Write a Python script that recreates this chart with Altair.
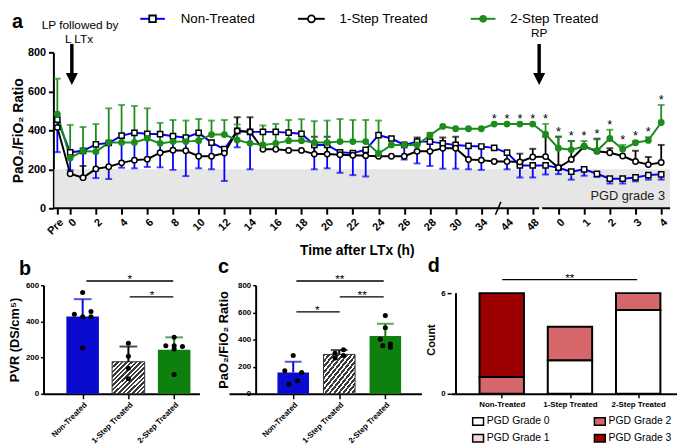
import json
import altair as alt
import pandas as pd

FONT = "Liberation Sans"
BLUE = "#0000ff"
GREEN = "#1c8c1c"
BAR_BLUE = "#0b0bd0"
BAR_GREEN = "#0d800d"
HATCH_DARK = "#3a3a3a"
BAND_GREY = "#e6e6e6"

# ======================= DATA =======================
# ---- panel a : PaO2/FiO2 ratio over time ----
time_points = (["Pre"] + [f"{h} h" for h in range(31)]
               + ["32 h", "34 h", "40 h", "44 h", "46 h", "48 h", "RP pre"]
               + [f"RP {t} h" for t in ("0", "0.5", "1", "1.5", "2", "2.5", "3", "3.5", "4")])
axis_tick_idx = [0] + list(range(1, 32, 2)) + [33, 35, 37, 39, 41, 43, 45, 47]
axis_tick_labels = (["Pre"] + [str(h) for h in range(0, 31, 2)]
                    + ["34", "44", "48", "0", "1", "2", "3", "4"])

non_treated = [455, 287, 295, 328, 335, 373, 387, 382, 380, 370,
               363, 387, 337, 303, 397, 392, 392, 392, 388, 382,
               325, 325, 287, 283, 300, 375, 358, 325, 342, 342,
               333, 325, 320, 317, 310, 285, 220, 220, 220, 208,
               188, 200, 177, 152, 152, 158, 170, 174]
one_step = [415, 177, 157, 202, 213, 233, 247, 252, 285, 298,
            295, 267, 267, 283, 397, 392, 303, 303, 297, 297,
            278, 278, 275, 272, 270, 267, 267, 267, 292, 292,
            308, 308, 250, 247, 240, 240, 238, 263, 265, 208,
            250, 317, 293, 285, 268, 240, 224, 235]
two_step = [483, 258, 294, 290, 337, 338, 338, 358, 333, 342,
            342, 347, 378, 378, 350, 333, 325, 333, 347, 347,
            337, 337, 342, 342, 342, 281, 325, 325, 325, 375,
            420, 408, 408, 408, 432, 432, 432, 432, 380, 308,
            300, 317, 295, 358, 303, 336, 348, 440]
N = None
non_treated_low = [288, 195, 158, 155, 150, 208, 205, 212, 210, 197,
                   165, 205, 200, 140, 313, 200, N, N, N, N,
                   200, 205, 182, 170, 163, N, N, 250, 230, 217,
                   203, 203, 200, 197, N, 200, 158, 158, 173, 175,
                   147, 167, 160, 127, 127, 138, 147, 147]
one_step_high = [N, N, 217, N, N, N, N, N, N, N,
                 N, N, N, N, 467, 467, N, N, N, N,
                 367, 367, N, N, N, N, N, N, 363, N,
                 363, 367, N, N, N, N, 280, 305, 367, 367,
                 345, N, 357, 308, N, 295, 263, 325]
two_step_high = [665, 428, 417, 432, 513, 530, 525, 513, 438, 453,
                 450, 458, 450, 453, 430, N, 425, 433, 453, 457,
                 447, 450, 458, 453, 453, 450, N, N, N, 387,
                 N, N, N, N, N, N, N, N, 433, 367,
                 345, 345, 353, 403, 325, 345, 365, 530]
significant_idx = list(range(34, 48))
pgd3_threshold = 200

# ---- panel b : PVR ----
groups = ["Non-Treated", "1-Step Treated", "2-Step Treated"]
pvr_mean = [427, 177, 243]
pvr_sd_top = [523, 261, 312]
pvr_non = [560, 440, 426, 455, 426, 253]
pvr_one = [279, 207, 141, 83]
pvr_two = [312, 266, 266, 261, 248, 106]

# ---- panel c : PaO2/FiO2 at end ----
pf_mean = [157, 290, 425]
pf_sd_top = [236, 322, 516]
pf_non = [282, 169, 157, 96, 70]
pf_one = [299, 325, 263, 282]
pf_two = [576, 487, 402, 366, 354, 342]

# ---- panel d : PGD grade counts ----
grades = ["PGD Grade 0", "PGD Grade 1", "PGD Grade 2", "PGD Grade 3"]
grade_counts = {"Non-Treated": [0, 0, 1, 5],
                "1-Step Treated": [2, 0, 2, 0],
                "2-Step Treated": [5, 0, 1, 0]}
grade_colors = ["#ffffff", "#f8d6d6", "#d5676b", "#9c0000"]

# ======================= LAYOUT HELPERS =======================
K = (668 - 56) / 47
def ax(px): return (px - 56) / K
def ay(py): return (210 - py) * 800 / 158
XA = [ax(42), ax(677)]

def bx(px): return (px - 79) / 49.5
def by(py): return (395 - py) * 600 / 110
def cx(px): return (px - 293.3) / 49.2
def cy(py): return (395 - py) * 800 / 110
def dx(px): return (px - 503.5) / 72.3
def dy(py): return (395 - py) * 6 / 102

grp_expr = json.dumps(groups) + "[datum.value]"
lab_arr = [""] * len(time_points)
for i, l in zip(axis_tick_idx, axis_tick_labels):
    lab_arr[i] = l
tick_expr = json.dumps(lab_arr) + "[datum.value]"

# ======================= PANEL A =======================
X_A = alt.X("idx:Q", title="Time after LTx (h)",
            scale=alt.Scale(domain=XA, nice=False, zero=False),
            axis=alt.Axis(values=axis_tick_idx, labelExpr=tick_expr, labelAngle=-45,
                          labelFontSize=11, labelFontWeight="bold", labelColor="black",
                          labelPadding=2, labelOverlap=False, labelFlush=False,
                          domain=False, tickColor="black", tickWidth=2, tickSize=6,
                          titleFontSize=14, titleFontWeight="bold", titleColor="black",
                          titlePadding=8, grid=False))
Y_A = alt.Y("val:Q", title="PaO₂/FiO₂ Ratio",
            scale=alt.Scale(domain=[0, 800], nice=False),
            axis=alt.Axis(values=[0, 200, 400, 600, 800], offset=-10, domainColor="black",
                          domainWidth=2, tickColor="black", tickWidth=2, tickSize=5,
                          labelFontSize=11, labelFontWeight="bold", labelColor="black",
                          labelPadding=3, titleFontSize=14, titleFontWeight="bold",
                          titleColor="black", titlePadding=2, grid=False))

series = [("Non-Treated", non_treated, BLUE), ("1-Step Treated", one_step, "black"),
          ("2-Step Treated", two_step, GREEN)]
long_rows = []
for name, vals, _ in series:
    for i, v in enumerate(vals):
        long_rows.append({"idx": i, "time": time_points[i], "series": name, "val": v})
a_long = pd.DataFrame(long_rows)

def err_frames(vals, ends):
    rows = [{"idx": i, "val": v, "val2": e} for i, (v, e) in enumerate(zip(vals, ends)) if e is not None]
    caps = [{"idx": r["idx"], "val": r["val2"]} for r in rows]
    return pd.DataFrame(rows), pd.DataFrame(caps)

band_df = pd.DataFrame({"idx": [ax(53)], "idx2": [XA[1]], "val": [0], "val2": [pgd3_threshold]})
axis_df = pd.DataFrame({"idx": [ax(52), ax(547.3)], "idx2": [ax(544.3), XA[1]], "val": [0, 0]})
slash_df = pd.DataFrame({"idx": [ax(500)], "idx2": [ax(505.5)], "val": [ay(216.5)], "val2": [ay(203.5)]})

layers_a = [
    alt.Chart(band_df).mark_rect(color=BAND_GREY).encode(x=X_A, x2="idx2:Q", y=Y_A, y2="val2:Q"),
    alt.Chart(axis_df).mark_rule(color="black", strokeWidth=2).encode(x=X_A, x2="idx2:Q", y=Y_A),
    alt.Chart(slash_df).mark_rule(color="black", strokeWidth=1.5).encode(x=X_A, x2="idx2:Q", y=Y_A, y2="val2:Q"),
]

err_specs = [(non_treated, non_treated_low, BLUE), (one_step, one_step_high, "black"),
             (two_step, two_step_high, GREEN)]
for (name, vals, col), (v2, ends, ecol) in zip(series, err_specs):
    e_df, c_df = err_frames(v2, ends)
    layers_a.append(alt.Chart(e_df).mark_rule(color=ecol, strokeWidth=1.8).encode(x=X_A, y=Y_A, y2="val2:Q"))
    layers_a.append(alt.Chart(c_df).mark_tick(orient="horizontal", size=7, thickness=2, color=ecol).encode(x=X_A, y=Y_A))
    layers_a.append(alt.Chart(a_long).transform_filter(alt.datum.series == name)
                    .mark_line(color=col, strokeWidth=2).encode(x=X_A, y=Y_A))

layers_a += [
    alt.Chart(a_long).transform_filter(alt.datum.series == "Non-Treated")
    .mark_point(shape="square", size=28, filled=True, fill="white", stroke="black", strokeWidth=1.5, opacity=1)
    .encode(x=X_A, y=Y_A),
    alt.Chart(a_long).transform_filter(alt.datum.series == "1-Step Treated")
    .mark_point(shape="circle", size=30, filled=True, fill="white", stroke="black", strokeWidth=1.5, opacity=1)
    .encode(x=X_A, y=Y_A),
    alt.Chart(a_long).transform_filter(alt.datum.series == "2-Step Treated")
    .mark_circle(size=48, color=GREEN, opacity=1).encode(x=X_A, y=Y_A),
]

star_df = pd.DataFrame({"idx": significant_idx,
                        "val": [max(two_step[i], two_step_high[i] or 0) for i in significant_idx]})
layers_a.append(alt.Chart(star_df).mark_text(text="*", fontSize=13, baseline="alphabetic", dy=-1, color="black")
                .encode(x=X_A, y=Y_A))

ann_df = pd.DataFrame({"idx": [ax(79), ax(78), ax(544.3)], "val": [ay(24.3), ay(38.3), ay(32.5)],
                       "txt": ["LP followed by", "L LTx", "RP"]})
layers_a.append(alt.Chart(ann_df).mark_text(fontSize=12, baseline="middle", align="center", color="black")
                .encode(x=X_A, y=Y_A, text="txt:N"))
shaft_df = pd.DataFrame({"idx": [ax(70.7), ax(544.3)], "val": [ay(43.5)] * 2, "val2": [ay(75)] * 2})
head_df = pd.DataFrame({"idx": [ax(70.7), ax(544.3)], "val": [ay(79)] * 2})
layers_a.append(alt.Chart(shaft_df).mark_rule(color="black", strokeWidth=3.5).encode(x=X_A, y=Y_A, y2="val2:Q"))
layers_a.append(alt.Chart(head_df).mark_point(shape="M-1,-1L1,-1L0,1Z", size=150, filled=True, color="black", opacity=1)
                .encode(x=X_A, y=Y_A))
pgd_df = pd.DataFrame({"idx": [ax(672)], "val": [ay(197.5)], "txt": ["PGD grade 3"]})
layers_a.append(alt.Chart(pgd_df).mark_text(fontSize=13, align="right", baseline="middle", color="#222222")
                .encode(x=X_A, y=Y_A, text="txt:N"))

# legend of panel a
LEG_Y = ay(18)
leg = [("Non-Treated", 140, 165, 152.5, 181, BLUE), ("1-Step Treated", 300, 327, 313.5, 342, "black"),
       ("2-Step Treated", 475, 500, 487.5, 515, GREEN)]
for name, x0, x1, xs, xt, col in leg:
    ldf = pd.DataFrame({"idx": [ax(x0)], "idx2": [ax(x1)], "val": [LEG_Y]})
    layers_a.append(alt.Chart(ldf).mark_rule(color=col, strokeWidth=2).encode(x=X_A, x2="idx2:Q", y=Y_A))
    sdf = pd.DataFrame({"idx": [ax(xs)], "val": [LEG_Y]})
    if name == "Non-Treated":
        m = alt.Chart(sdf).mark_point(shape="square", size=45, filled=True, fill="white", stroke="black", strokeWidth=1.8, opacity=1)
    elif name == "1-Step Treated":
        m = alt.Chart(sdf).mark_point(shape="circle", size=50, filled=True, fill="white", stroke="black", strokeWidth=1.8, opacity=1)
    else:
        m = alt.Chart(sdf).mark_circle(size=60, color=GREEN, opacity=1)
    layers_a.append(m.encode(x=X_A, y=Y_A))
    tdf = pd.DataFrame({"idx": [ax(xt)], "val": [LEG_Y], "txt": [name]})
    layers_a.append(alt.Chart(tdf).mark_text(fontSize=13.5, align="left", baseline="middle", color="black")
                    .encode(x=X_A, y=Y_A, text="txt:N"))

letter_a = pd.DataFrame({"idx": [ax(10)], "val": [ay(27)], "txt": ["a"]})
layers_a.append(alt.Chart(letter_a).mark_text(fontSize=20, fontWeight="bold", align="left", baseline="alphabetic", color="black")
                .encode(x=X_A, y=Y_A, text="txt:N"))

panel_a = alt.layer(*layers_a).properties(width=635, height=158)

# ======================= BAR PANELS (b, c) =======================
stops = []
NH = 14
for k in range(NH):
    a0, a1, a2 = k / NH, (k + 0.55) / NH, (k + 1) / NH
    stops += [alt.GradientStop(offset=a0, color=HATCH_DARK), alt.GradientStop(offset=a1, color=HATCH_DARK),
              alt.GradientStop(offset=a1, color="#ffffff"), alt.GradientStop(offset=a2, color="#ffffff")]
hatch = alt.LinearGradient(gradient="linear", stops=stops, x1=0, y1=0, x2=1, y2=1)
BAR_COLORS = [BAR_BLUE, None, BAR_GREEN]
ERR_COLORS = [BAR_BLUE, "black", BAR_GREEN]


def bar_panel(means, tops, pts, slots, slot_w, xdom, ydom, yticks, ytitle, width, height,
              bar_w, cap_w, title_pad, sig_lines, sig_texts, letter, letter_xy, y_offset=0):
    X = alt.X("pos:Q", title=None, scale=alt.Scale(domain=xdom, nice=False, zero=False),
              axis=alt.Axis(values=[0, 1, 2], labelExpr=grp_expr, labelAngle=-45, labelFontSize=8,
                            labelFontWeight="bold", labelColor="black", labelPadding=2, labelFlush=False,
                            labelOverlap=False, tickSize=5, tickWidth=1.5, tickColor="black",
                            domainWidth=2, domainColor="black", grid=False))
    Y = alt.Y("val:Q", title=ytitle, scale=alt.Scale(domain=ydom, nice=False),
              axis=alt.Axis(values=yticks, offset=y_offset, labelFontSize=8, labelFontWeight="bold",
                            labelColor="black", labelPadding=2, tickSize=3, tickWidth=1.5, tickColor="black",
                            domainWidth=2, domainColor="black", grid=False, titleFontSize=13,
                            titleFontWeight="bold", titleColor="black", titlePadding=title_pad))
    layers = []
    for k, g in enumerate(groups):
        bdf = pd.DataFrame({"pos": [k], "group": [g], "val": [means[k]], "val2": [tops[k]]})
        if k == 1:
            layers.append(alt.Chart(bdf).mark_bar(width=bar_w, fill=hatch, stroke="#333333", strokeWidth=1)
                          .encode(x=X, y=Y))
        else:
            layers.append(alt.Chart(bdf).mark_bar(width=bar_w, color=BAR_COLORS[k]).encode(x=X, y=Y))
        layers.append(alt.Chart(bdf).mark_rule(color=ERR_COLORS[k], strokeWidth=2).encode(x=X, y=Y, y2="val2:Q"))
        cdf = pd.DataFrame({"pos": [k], "val": [tops[k]]})
        layers.append(alt.Chart(cdf).mark_tick(orient="horizontal", size=cap_w, thickness=2, color=ERR_COLORS[k])
                      .encode(x=X, y=Y))
    drows = []
    for k, (vals, sl) in enumerate(zip(pts, slots)):
        for v, s in zip(vals, sl):
            drows.append({"pos": k + s * slot_w, "val": v, "group": groups[k]})
    layers.append(alt.Chart(pd.DataFrame(drows)).mark_circle(size=26, color="black", opacity=1).encode(x=X, y=Y))
    layers.append(alt.Chart(pd.DataFrame(sig_lines)).mark_rule(color="black", strokeWidth=1.3)
                  .encode(x=X, x2="pos2:Q", y=Y))
    layers.append(alt.Chart(pd.DataFrame(sig_texts)).mark_text(fontSize=12, baseline="alphabetic", dy=2, color="black")
                  .encode(x=X, y=Y, text="txt:N"))
    ldf = pd.DataFrame({"pos": [letter_xy[0]], "val": [letter_xy[1]], "txt": [letter]})
    layers.append(alt.Chart(ldf).mark_text(fontSize=20, fontWeight="bold", align="left", baseline="alphabetic", color="black")
                  .encode(x=X, y=Y, text="txt:N"))
    return alt.layer(*layers).properties(width=width, height=height)


panel_b = bar_panel(
    pvr_mean, pvr_sd_top, [pvr_non, pvr_one, pvr_two],
    [[0, -1, 0, 1, 1, 0], [0, 0, 0, 0], [0, -1, 0, 1, 0, 0]], 9 / 49.5,
    [bx(42), bx(200)], [0, 600], [0, 200, 400, 600], "PVR (DS/cm⁵)", 158, 110, 33, 18, 4,
    [{"pos": bx(83), "pos2": bx(177), "val": by(280.7)}, {"pos": bx(130), "pos2": bx(177), "val": by(296.7)}],
    [{"pos": bx(130), "val": by(280.7), "txt": "*"}, {"pos": bx(154), "val": by(296.7), "txt": "*"}],
    "b", (bx(10), by(275)))

# panel c view starts 30 px after panel b (page x 230); its y axis sits at page x 257
panel_c = bar_panel(
    pf_mean, pf_sd_top, [pf_non, pf_one, pf_two],
    [[0, -1, 1, 0.5, -0.5], [-0.5, 0.5, -0.5, 0.5], [0, 0, -0.6, 0.6, -0.3, 0.6]], 9 / 49.2,
    [cx(230), cx(425)], [0, 800], [0, 200, 400, 600, 800], "PaO₂/FiO₂ Ratio", 195, 110, 32, 17, 7,
    [{"pos": cx(296.7), "pos2": cx(390), "val": cy(280.7)}, {"pos": cx(343), "pos2": cx(390), "val": cy(296.7)},
     {"pos": cx(296.7), "pos2": cx(343), "val": cy(312)}],
    [{"pos": cx(343), "val": cy(280.7), "txt": "**"}, {"pos": cx(367), "val": cy(296.7), "txt": "**"},
     {"pos": cx(319), "val": cy(312), "txt": "*"}],
    "c", (cx(213), cy(273)), y_offset=-27)

# ======================= PANEL D =======================
X_D = alt.X("pos:Q", title=None, scale=alt.Scale(domain=[dx(455), dx(684)], nice=False, zero=False),
            axis=alt.Axis(values=[0, 1, 2], labelExpr=grp_expr, labelAngle=0, labelFontSize=8,
                          labelFontWeight="bold", labelColor="black", labelPadding=3, labelFlush=False,
                          tickSize=4, tickWidth=1.5, tickColor="black", domainWidth=2,
                          domainColor="black", grid=False))
Y_D = alt.Y("val:Q", title="Count", scale=alt.Scale(domain=[0, dy(285)], nice=False),
            stack="zero",
            axis=alt.Axis(values=[0, 2, 4, 6], domain=False, labelFontSize=8, labelFontWeight="bold",
                          labelColor="black", labelPadding=2, tickSize=4, tickWidth=1.5, tickColor="black",
                          grid=False, titleFontSize=11, titleFontWeight="bold", titleColor="black",
                          titlePadding=4))
COL_D = alt.Color("grade:N", scale=alt.Scale(domain=grades, range=grade_colors), legend=None)
drows = []
for k, g in enumerate(groups):
    for j, (gr, n) in enumerate(zip(grades, grade_counts[g])):
        if n > 0:
            drows.append({"pos": k, "group": g, "grade": gr, "gorder": j, "val": n})
d_df = pd.DataFrame(drows)
layers_d = [
    alt.Chart(pd.DataFrame({"pos": [dx(455)], "val": [0], "val2": [6]}))
    .mark_rule(color="black", strokeWidth=2).encode(x=X_D, y=alt.Y("val:Q"), y2="val2:Q"),
    alt.Chart(d_df).mark_bar(width=45, stroke="black", strokeWidth=2)
    .encode(x=X_D, y=Y_D, color=COL_D, order=alt.Order("gorder:Q", sort="ascending")),
    alt.Chart(pd.DataFrame({"pos": [dx(504)], "pos2": [dx(647)], "val": [dy(279.3)]}))
    .mark_rule(color="black", strokeWidth=1.3).encode(x=X_D, x2="pos2:Q", y=alt.Y("val:Q")),
    alt.Chart(pd.DataFrame({"pos": [dx(575.7)], "val": [dy(279.3)], "txt": ["**"]}))
    .mark_text(fontSize=12, baseline="alphabetic", dy=2, color="black").encode(x=X_D, y=alt.Y("val:Q"), text="txt:N"),
    alt.Chart(pd.DataFrame({"pos": [dx(425)], "val": [dy(272)], "txt": ["d"]}))
    .mark_text(fontSize=20, fontWeight="bold", align="left", baseline="alphabetic", color="black")
    .encode(x=X_D, y=alt.Y("val:Q"), text="txt:N"),
]
# legend of panel d (grid: Grade 0 / Grade 2 on first row, Grade 1 / Grade 3 on second)
leg_pos = {"PGD Grade 0": (472.7, 423), "PGD Grade 2": (601.7, 423),
           "PGD Grade 1": (472.7, 440), "PGD Grade 3": (601.7, 440)}
box_rows, txt_rows = [], []
for gr in grades:
    px, py = leg_pos[gr]
    box_rows.append({"grade": gr, "pos": dx(px), "pos2": dx(px + 11.5), "val": dy(py - 3.8), "val2": dy(py + 3.8)})
    txt_rows.append({"pos": dx(px + 15), "val": dy(py), "txt": gr})
layers_d.append(alt.Chart(pd.DataFrame(box_rows)).mark_rect(stroke="black", strokeWidth=1.5)
                .encode(x=X_D, x2="pos2:Q", y=alt.Y("val:Q"), y2="val2:Q", color=COL_D))
layers_d.append(alt.Chart(pd.DataFrame(txt_rows)).mark_text(fontSize=10.5, align="left", baseline="middle", color="black")
                .encode(x=X_D, y=alt.Y("val:Q"), text="txt:N"))
panel_d = alt.layer(*layers_d).properties(width=229, height=110)

row = alt.hconcat(panel_b, panel_c, panel_d, spacing=30, bounds="flush")
chart = (alt.vconcat(panel_a, row, spacing=78, bounds="flush")
         .properties(padding=0)
         .configure(font=FONT)
         .configure_view(stroke=None))

chart.save("out.html", embed_options={"renderer": "svg", "actions": False})
